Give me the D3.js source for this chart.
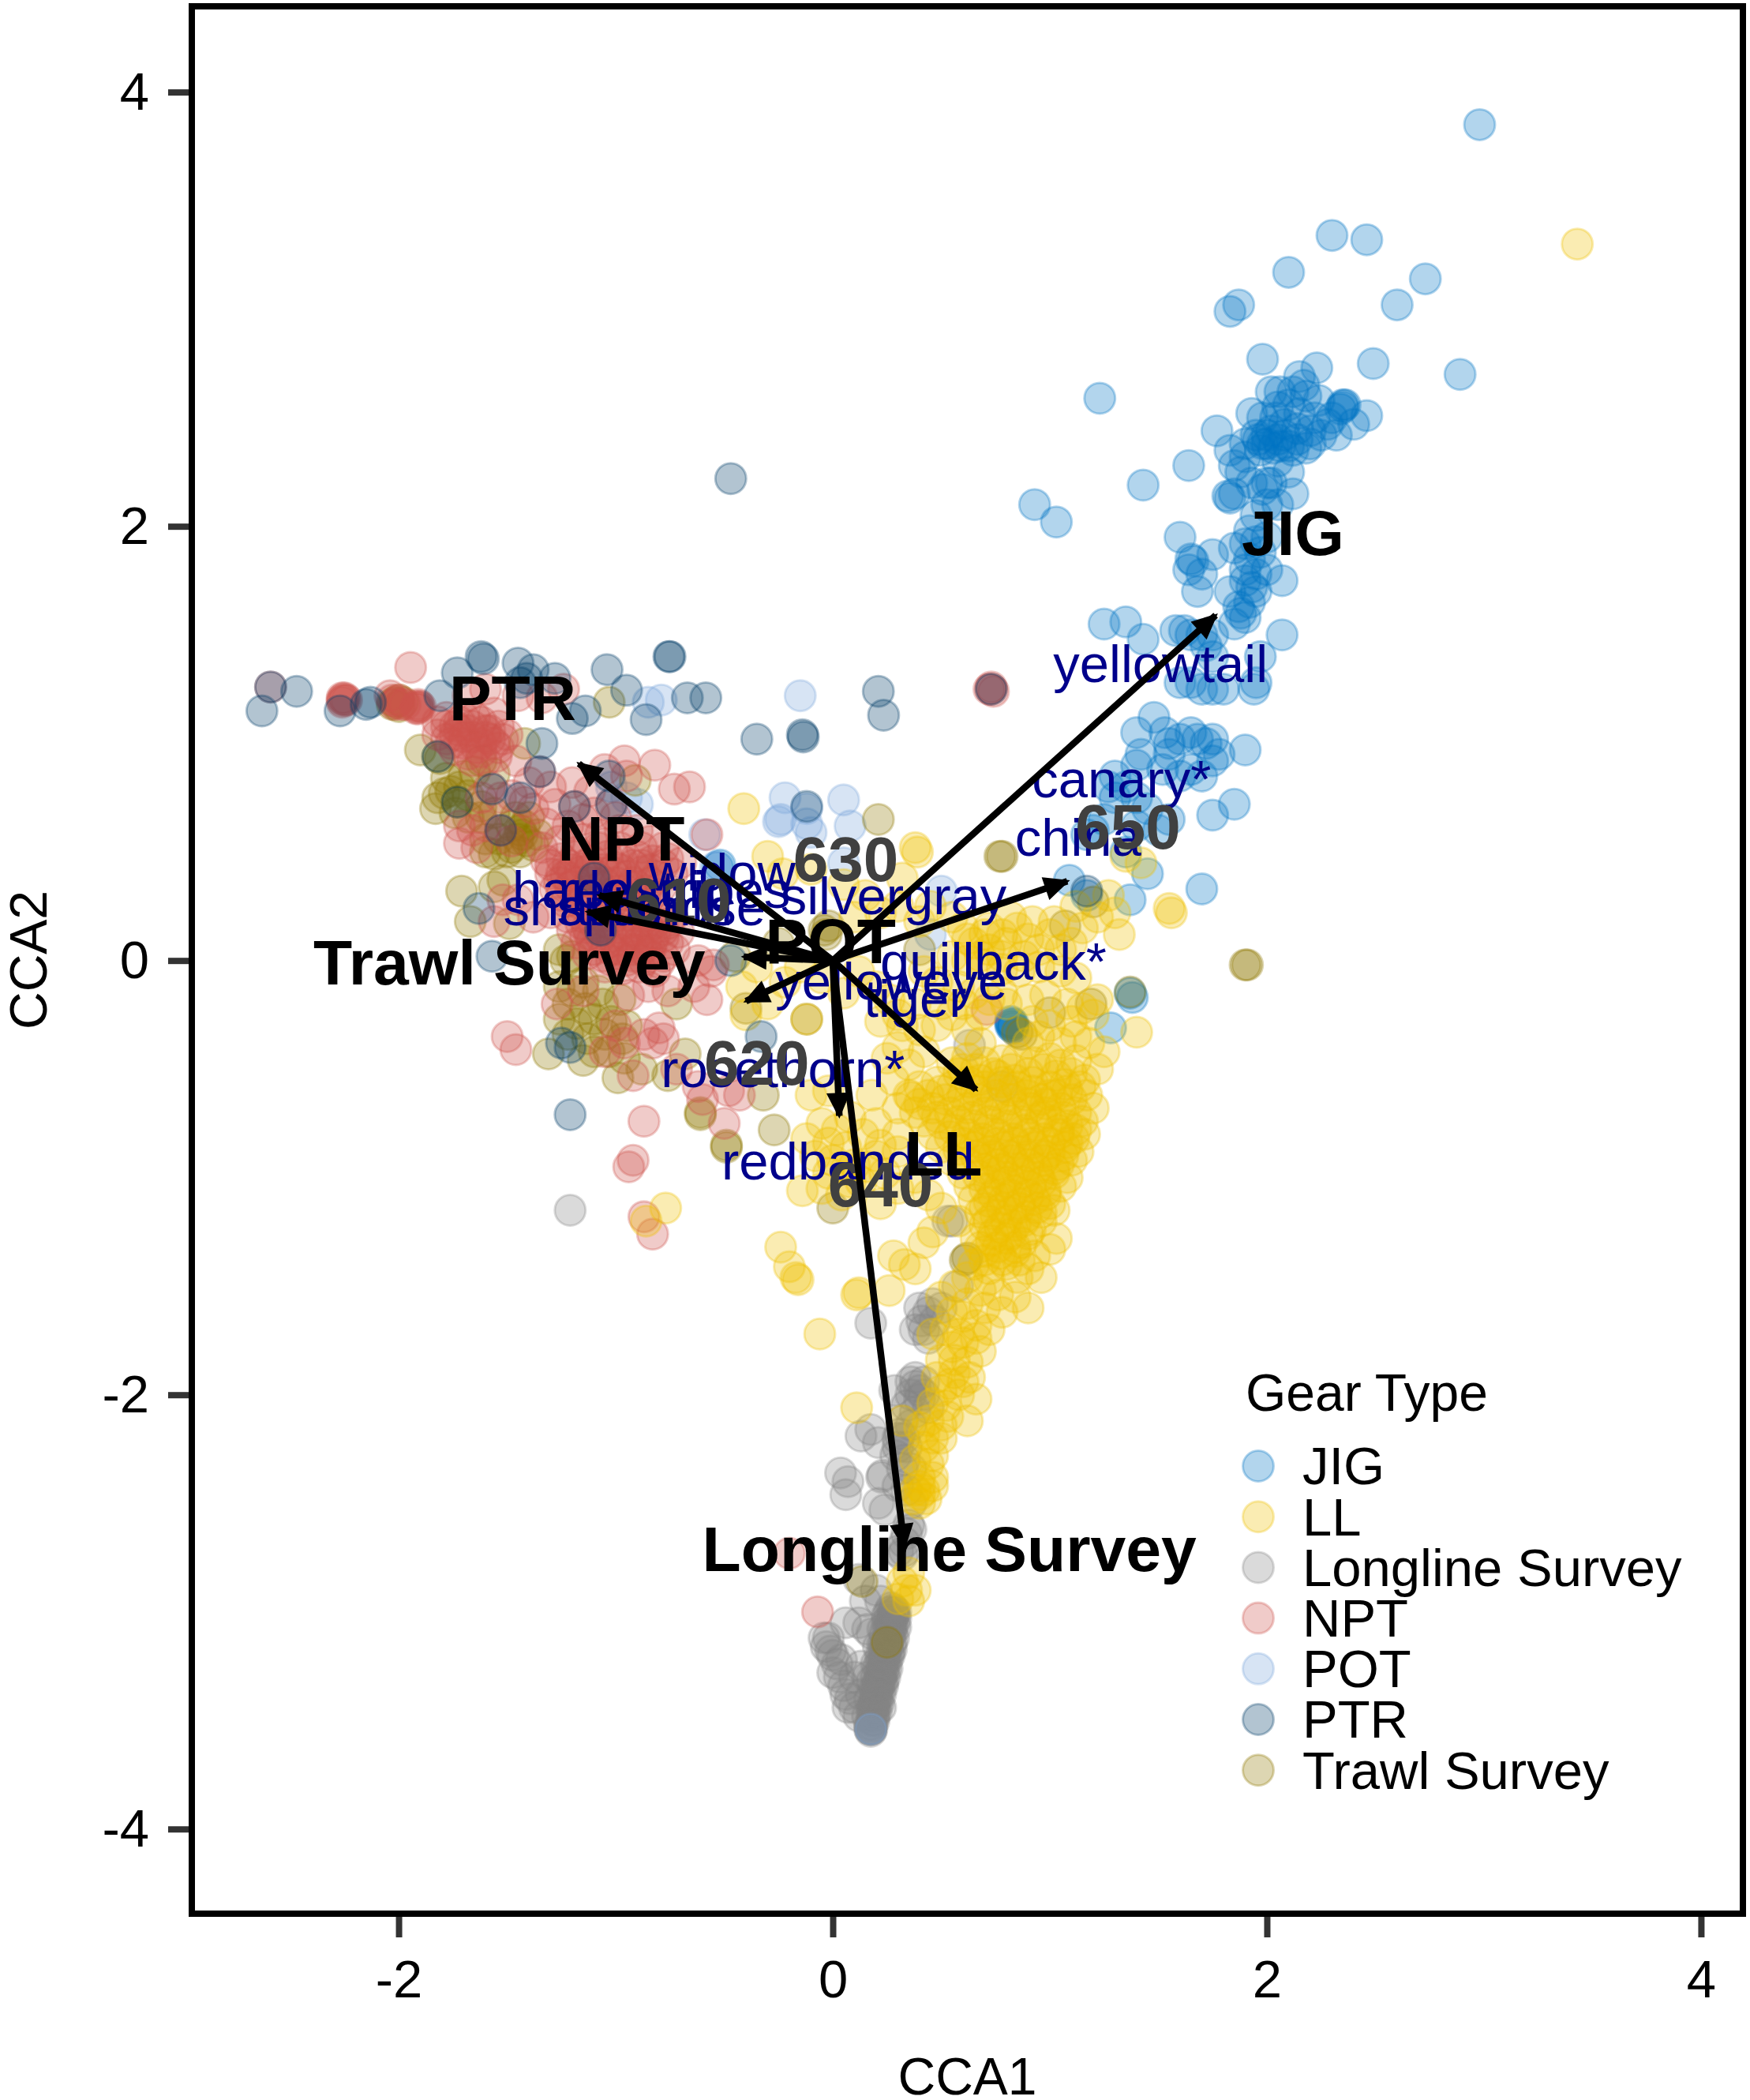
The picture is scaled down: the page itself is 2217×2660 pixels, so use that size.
<!DOCTYPE html>
<html>
<head>
<meta charset="utf-8">
<script src="https://d3js.org/d3.v7.min.js"></script>
<style>
body { margin: 0; background: #fff; }
text { font-family: "Liberation Sans", Arial, sans-serif; }
</style>
</head>
<body>
<div id="chart"></div>
<script>
var gears = ["JIG", "LL", "Longline Survey", "NPT", "POT", "PTR", "Trawl Survey"];
var gearColors = ["#0073C2", "#EFC000", "#868686", "#CD534C", "#7AA6DC", "#003C67", "#8F7700"];
var drawOrder = ["Longline Survey", "JIG", "POT", "Trawl Survey", "NPT", "LL", "PTR"];

var jigPts = [[2.98,3.85],[2.30,3.34],[2.46,3.32],[2.10,3.17],[1.87,3.02],[1.83,2.99],[2.73,3.14],[2.60,3.02],[1.98,2.77],[2.49,2.75],[2.89,2.70],
[2.23,2.73],[2.15,2.69],[2.17,2.65],[2.06,2.62],[1.23,2.59],[2.35,2.55],[2.36,2.56],[2.34,2.54],[2.35,2.56],[2.46,2.51],[1.77,2.44],[1.93,2.52],
[2.05,2.40],[2.0,2.38],[1.97,2.35],[2.03,2.36],[2.08,2.42],[1.95,2.42],[2.1,2.37],[2.14,2.4],[2.2,2.38],[2.25,2.42],[2.28,2.47],[2.22,2.5],[2.15,2.52],[2.1,2.56],[2.18,2.6],[2.05,2.55],[1.98,2.5],[2.3,2.5],[2.4,2.47],[2.32,2.42],[2.0,2.42],[2.02,2.44],[1.98,2.38],[2.06,2.37],[2.12,2.35],[2.18,2.36],[1.96,2.4],
[1.83,2.35],[1.85,2.28],[1.9,2.32],[1.64,2.28],[1.93,2.2],[1.98,2.17],[2.05,2.1],[2.12,2.15],[2.0,2.2],[1.82,2.14],[1.83,2.13],[1.85,2.15],[1.95,2.05],[2.0,2.1],[1.43,2.19],[2.02,2.2],[0.93,2.1],[1.03,2.02],
[1.9,1.92],[1.95,1.93],[2.0,1.95],[1.85,1.9],[1.92,1.85],[1.6,1.95],[1.65,1.85],[1.64,1.8],[1.66,1.84],[1.7,1.78],[1.75,1.87],[1.68,1.7],[1.83,1.7],[1.9,1.75],[1.95,1.7],[1.92,1.65],[1.88,1.6],[1.85,1.55],[1.9,1.58],[2.07,1.75],[1.95,1.78],[2.0,1.8],[1.87,1.63],[1.93,1.72],
[1.25,1.55],[1.35,1.56],[1.43,1.48],[1.58,1.52],[1.62,1.52],[1.65,1.5],[1.7,1.5],[1.75,1.5],[1.72,1.45],[1.75,1.4],[2.07,1.5],[1.97,1.4],[1.95,1.28],[1.94,1.25],[1.6,1.28],[1.65,1.28],[1.7,1.25],[1.75,1.25],[1.8,1.25],[1.48,1.12],
[1.4,1.05],[1.42,0.95],[1.4,0.9],[1.53,1.05],[1.55,1.0],[1.6,1.02],[1.65,1.05],[1.68,1.02],[1.72,1.0],[1.75,0.92],[1.78,0.95],[1.52,0.88],[1.6,0.85],[1.65,0.88],[1.7,0.85],[1.9,0.97],[1.75,1.02],[1.55,0.95],[1.3,0.85],[1.27,0.8],[1.35,0.8],[1.3,0.75],[1.4,0.75],[1.75,0.67],[1.85,0.72],[1.45,0.7],[1.5,0.6],[1.55,0.65],[1.4,0.62],[1.2,0.6],[1.25,0.65],[1.17,0.58],[1.35,0.5],[1.7,0.33],[1.37,0.28],[1.45,0.4],[1.17,0.3],[1.09,0.37],
[0.82,-0.29],[0.83,-0.30],[0.82,-0.30],[0.83,-0.29],[0.82,-0.28],[0.83,-0.31],[1.28,-0.31],[1.37,-0.15],[1.38,-0.17],[-0.53,0.43],[-0.52,0.44],
[2.08,2.47],[2.14,2.45],[2.04,2.5],[2.2,2.44],[2.12,2.62],[2.24,2.58],[2.02,2.62],[1.9,2.38],[2.05,2.3],[1.88,2.25],[2.1,2.25],[1.92,1.98],[1.97,1.88],[1.9,1.8]];

var llPts = [[3.43,3.30],[1.55,0.24],[1.56,0.22],[1.40,-0.33],[-0.41,0.70],[0.38,0.52],[0.39,0.50],[-0.77,-1.14],[-0.86,-1.20],[-0.06,-1.72],[0.11,-1.54],[0.12,-1.53],[0.11,-2.06],[-0.24,-1.32],[-0.2,-1.41],[-0.17,-1.46],[-0.16,-1.47],
[-0.3,0.48],[-0.23,0.4],[-0.1,0.42],[0.05,0.35],[0.15,0.3],[0.32,0.38],[0.45,0.25],[0.55,0.2],[0.6,0.15],[0.7,0.12],[0.65,0.08],[0.72,0.05],[0.78,0.12],[0.85,0.15],[0.8,0.08],[0.9,0.1],[0.95,0.05],[1.0,0.12],[1.05,0.05],[1.1,0.08],[1.15,0.15],[1.22,0.2],[1.3,0.22],[1.32,0.12],[1.27,0.3],[1.12,0.25],[1.35,0.48],[1.42,0.45],
[0.55,0.02],[0.62,0.0],[0.7,-0.02],[0.78,-0.04],[0.86,-0.05],[0.95,-0.03],[1.05,-0.05],[1.12,-0.08],[0.42,-0.05],[0.48,-0.1],[0.58,-0.12],[0.65,-0.15],[0.72,-0.18],[0.78,-0.15],[0.9,-0.18],[0.98,-0.16],[1.08,-0.2],[1.15,-0.22],[1.22,-0.18],[1.2,-0.25],[1.1,-0.28],[1.0,-0.3],[1.12,-0.35],[1.05,-0.38],[0.95,-0.35],[0.9,-0.38],[1.18,-0.38],[1.25,-0.42],[1.22,-0.5],[1.12,-0.46],
[0.2,-0.12],[0.12,-0.05],[0.05,-0.15],[-0.05,-0.08],[-0.15,-0.03],[-0.22,-0.1],[-0.35,-0.03],[-0.42,-0.12],[-0.4,-0.25],[-0.3,-0.2],[-0.12,-0.27],[0.3,-0.25],[0.22,-0.28],[0.4,-0.32],[0.48,-0.3],[0.55,-0.25],[0.62,-0.32],[0.68,-0.38],[0.3,-0.4],[0.35,-0.48],[0.25,-0.45],[0.42,-0.42],
[0.55,-0.47],[0.62,-0.45],[0.7,-0.47],[0.78,-0.46],[0.85,-0.45],[0.93,-0.47],[1.0,-0.45],[1.05,-0.48],[0.58,-0.52],[0.66,-0.5],[0.74,-0.52],[0.82,-0.5],[0.9,-0.52],[0.97,-0.5],[1.03,-0.53],[1.1,-0.52],[1.16,-0.55],[0.4,-0.58],[0.48,-0.56],[0.55,-0.58],[0.63,-0.56],[0.7,-0.58],[0.78,-0.56],[0.85,-0.58],[0.92,-0.56],[1.0,-0.58],[1.07,-0.57],[1.14,-0.58],[0.36,-0.63],
[0.44,-0.62],[0.52,-0.64],[0.6,-0.62],[0.67,-0.64],[0.75,-0.62],[0.82,-0.64],[0.89,-0.62],[0.96,-0.64],[1.03,-0.62],[1.1,-0.64],[1.17,-0.62],[1.2,-0.68],[0.3,-0.68],[0.38,-0.7],[0.46,-0.68],[0.54,-0.7],[0.62,-0.68],[0.7,-0.7],[0.77,-0.68],[0.84,-0.7],[0.91,-0.68],[0.98,-0.7],[1.05,-0.68],[1.12,-0.7],[0.42,-0.74],[0.5,-0.75],[0.58,-0.74],[0.65,-0.76],[0.72,-0.74],[0.8,-0.76],[0.87,-0.74],[0.94,-0.76],[1.01,-0.74],[1.08,-0.76],[1.15,-0.74],
[0.46,-0.8],[0.54,-0.81],[0.62,-0.8],[0.69,-0.82],[0.76,-0.8],[0.83,-0.82],[0.9,-0.8],[0.97,-0.82],[1.04,-0.8],[1.11,-0.82],[1.16,-0.8],[0.5,-0.86],[0.58,-0.87],[0.65,-0.86],[0.72,-0.88],[0.79,-0.86],[0.86,-0.88],[0.93,-0.86],[1.0,-0.88],[1.07,-0.86],[1.13,-0.88],[0.55,-0.92],[0.62,-0.93],[0.69,-0.92],[0.76,-0.94],[0.83,-0.92],[0.9,-0.94],[0.97,-0.92],[1.04,-0.94],[1.1,-0.92],
[0.6,-0.98],[0.67,-0.99],[0.74,-0.98],[0.81,-1.0],[0.88,-0.98],[0.95,-1.0],[1.02,-0.98],[1.08,-1.0],[0.63,-1.04],[0.7,-1.05],[0.77,-1.04],[0.84,-1.06],[0.91,-1.04],[0.98,-1.06],[1.05,-1.04],[0.65,-1.1],[0.72,-1.11],[0.79,-1.1],[0.86,-1.12],[0.93,-1.1],[1.0,-1.12],[0.68,-1.16],[0.75,-1.17],[0.82,-1.16],[0.89,-1.18],[0.96,-1.16],[1.02,-1.15],
[0.7,-1.22],[0.77,-1.23],[0.84,-1.22],[0.91,-1.24],[0.66,-1.28],[0.73,-1.29],[0.8,-1.28],[0.87,-1.3],[1.03,-1.28],[0.7,-1.34],[0.77,-1.35],[0.84,-1.34],[0.93,-1.36],[1.0,-1.33],[0.65,-1.4],[0.72,-1.42],[0.8,-1.4],[0.9,-1.42],[0.96,-1.46],[0.85,-1.46],[0.72,-1.47],[0.62,-1.46],[0.56,-1.5],[0.68,-1.52],[0.76,-1.54],[0.84,-1.55],[0.9,-1.6],[0.78,-1.62],[0.7,-1.6],[0.62,-1.58],[0.55,-1.62],
[-0.1,-0.62],[-0.02,-0.6],[0.08,-0.72],[-0.05,-0.75],[0.02,-0.78],[-0.12,-0.82],[-0.02,-0.84],[0.06,-0.86],[0.14,-0.8],[0.2,-0.75],[-0.08,-0.9],[0.0,-0.92],[0.1,-0.94],[0.2,-0.9],[0.3,-0.88],[-0.05,-1.05],[-0.14,-1.06],[0.04,-1.08],[0.13,-1.02],[0.22,-1.12],[0.3,-1.05],[0.38,-1.0],[0.44,-1.08],[0.5,-1.14],[0.46,-1.25],[0.58,-1.2],[0.42,-1.3],[0.33,-1.4],[0.38,-1.42],[0.28,-1.36],
[0.26,-1.52],[0.5,-1.55],[0.46,-1.72],[0.52,-1.7],[0.55,-1.78],[0.58,-1.72],[0.56,-1.9],[0.62,-1.85],[0.68,-1.8],[0.63,-1.92],[0.5,-1.98],[0.58,-2.0],[0.66,-2.02],[0.53,-2.1],[0.62,-2.12],[0.5,-2.2],[0.4,-2.15],[0.32,-2.12],[0.46,-2.28],[0.42,-2.24],[0.38,-2.3],[0.4,-2.38],[0.42,-2.44],[0.38,-2.44],[0.46,-2.42],[0.4,-2.46],[0.4,-2.5],[0.46,-2.38],
[0.32,-2.86],[0.35,-2.82],[0.38,-2.9],[0.34,-2.9],[0.3,-2.94],[0.35,-2.95],
[0.6,-0.5],[0.68,-0.55],[0.76,-0.53],[0.84,-0.55],[0.92,-0.6],[1.0,-0.62],[1.08,-0.6],[0.5,-0.6],[0.58,-0.66],[0.66,-0.6],[0.74,-0.66],[0.82,-0.6],[0.9,-0.66],[0.98,-0.66],[1.06,-0.72],[0.4,-0.66],[0.48,-0.72],[0.56,-0.78],[0.64,-0.72],[0.72,-0.78],[0.8,-0.72],[0.88,-0.78],[0.96,-0.72],[1.04,-0.78],[1.12,-0.78],
[0.6,-0.84],[0.68,-0.84],[0.76,-0.84],[0.84,-0.84],[0.92,-0.84],[1.0,-0.84],[1.08,-0.84],[0.66,-0.9],[0.74,-0.9],[0.82,-0.9],[0.9,-0.9],[0.98,-0.9],[1.06,-0.9],[0.7,-0.96],[0.78,-0.96],[0.86,-0.96],[0.94,-0.96],[1.02,-0.96],[0.72,-1.02],[0.8,-1.02],[0.88,-1.02],[0.96,-1.02],[0.74,-1.08],[0.82,-1.08],[0.9,-1.08],[0.98,-1.08],[0.7,-1.14],[0.78,-1.14],[0.86,-1.14],[0.94,-1.14],[0.72,-1.2],[0.8,-1.2],[0.88,-1.2],[0.96,-1.2],[0.74,-1.26],[0.82,-1.26],[0.9,-1.26],[0.68,-1.32],[0.76,-1.32],[0.84,-1.32],[0.7,-1.38],[0.78,-1.38],[0.86,-1.38],
[0.3,-0.8],[0.22,-0.85],[0.16,-0.95],[0.08,-1.02],[0.24,-0.98],[0.06,-0.96],[-0.02,-0.98],[0.35,-0.62],[0.28,-0.55],[0.18,-0.62],[0.32,-0.3],[0.38,-0.2],[0.26,-0.18],[0.5,-0.2],[0.6,-0.2],[0.68,-0.25],[0.8,-0.2],[0.92,-0.28],[0.68,0.02],[0.78,0.02],[0.88,0.02],[0.62,0.1],[0.72,0.15],[0.82,0.2],[0.92,0.18],[1.02,0.18],[0.4,0.18],[0.3,0.25],[0.22,0.22],[0.1,0.2],
[0.6,-1.64],[0.66,-1.68],[0.72,-1.7],[0.6,-1.76],[0.66,-1.74],[0.5,-1.84],[0.56,-1.84],[0.48,-1.92],[0.54,-1.95],[0.6,-1.94],[0.46,-2.04],[0.52,-2.05],[0.44,-2.12],[0.5,-2.14],[0.42,-2.18],[0.46,-2.2],[0.44,-2.32],[0.4,-2.42],[0.43,-2.48],[0.37,-2.48]];

var longlinePts = [[0.175,-3.54],[0.18,-3.5],[0.19,-3.46],[0.2,-3.42],[0.18,-3.44],[0.21,-3.38],[0.19,-3.36],[0.22,-3.33],[0.2,-3.3],[0.23,-3.28],[0.21,-3.25],[0.24,-3.22],[0.22,-3.2],[0.25,-3.17],[0.23,-3.15],[0.26,-3.12],[0.24,-3.1],[0.27,-3.07],[0.25,-3.05],[0.28,-3.02],[0.26,-3.0],[0.29,-3.0],[0.27,-2.98],
[0.17,-3.52],[0.19,-3.48],[0.16,-3.48],[0.22,-3.44],[0.17,-3.4],[0.2,-3.36],[0.23,-3.34],[0.18,-3.32],[0.22,-3.28],[0.25,-3.26],[0.2,-3.24],[0.23,-3.2],[0.26,-3.18],[0.21,-3.16],[0.24,-3.14],[0.27,-3.1],[0.23,-3.08],[0.26,-3.06],[0.29,-3.03],[0.25,-3.02],[0.28,-2.99],[0.19,-3.42],[0.21,-3.32],[0.24,-3.26],[0.27,-3.14],[0.28,-3.06],
[-0.04,-3.12],[-0.03,-3.16],[-0.02,-3.12],[-0.01,-3.18],[0.0,-3.2],[0.02,-3.24],[0.0,-3.28],[0.03,-3.3],[0.05,-3.34],[0.06,-3.38],[0.08,-3.4],[0.1,-3.44],[0.07,-3.44],[0.12,-3.48],[0.04,-3.22],[0.1,-3.3],[0.13,-3.38],[0.13,-3.25],[0.16,-3.3],[0.06,-3.05],[0.12,-3.05],[0.16,-3.08],[0.18,-3.1],
[0.12,-2.85],[0.2,-2.9],[0.15,-2.95],[0.22,-2.95],[0.3,-2.72],[0.32,-2.74],[0.33,-2.68],[0.34,-2.64],[0.36,-2.62],[0.35,-2.6],[0.33,-2.72],
[0.036,-2.36],[0.07,-2.40],[0.06,-2.46],[0.13,-2.19],[0.175,-2.16],[0.21,-2.22],[0.225,-2.38],[0.23,-2.37],[0.21,-2.5],[0.24,-2.53],[0.285,-1.98],[0.38,-1.96],[0.36,-1.94],[0.42,-2.0],[0.4,-2.02],[0.44,-2.06],[0.3,-2.2],[0.33,-2.3],[0.31,-2.18],[0.34,-2.24],[0.36,-2.34],
[0.175,-1.67],[0.41,-1.66],[0.44,-1.62],[0.42,-1.7],[0.47,-1.66],[0.44,-1.74],[0.53,-1.2],[0.575,-1.5],[0.63,-0.39],[0.55,-1.20],[0.78,-0.58],[-1.21,-1.15],[0.18,-3.52],[0.175,-3.53],[0.175,-3.54],[0.175,-3.55],[0.17,-3.54],[0.18,-3.54],
[0.18,-3.47],[0.19,-3.44],[0.2,-3.4],[0.2,-3.38],[0.21,-3.35],[0.21,-3.34],[0.22,-3.31],[0.22,-3.3],[0.23,-3.26],[0.23,-3.24],[0.24,-3.21],[0.24,-3.19],[0.25,-3.16],[0.25,-3.14],[0.26,-3.11],[0.26,-3.09],[0.27,-3.06],[0.27,-3.04],[0.28,-3.01],[0.28,-3.0],[0.19,-3.5],[0.2,-3.46],[0.21,-3.42],[0.22,-3.38],[0.23,-3.32],[0.24,-3.3],[0.25,-3.22],[0.26,-3.2],[0.27,-3.17],[0.28,-3.12],[0.29,-3.07],[0.2,-3.34],[0.22,-3.24],[0.24,-3.16],[0.26,-3.04],
[0.36,-2.0],[0.4,-1.98],[0.34,-2.05],[0.38,-2.08],[0.32,-2.12],[0.36,-2.14],[0.3,-2.24],[0.33,-2.2],[0.29,-2.28],[0.32,-2.34],[0.3,-2.42],[0.34,-2.44],[0.36,-2.5],[0.38,-1.92],[0.42,-1.94],[0.46,-1.58],[0.5,-1.6],[0.4,-1.6],[0.38,-1.7]];

var nptPts = [[-1.945,1.35],[-2.25,1.2],[-2.26,1.19],[-2.25,1.21],[-2.26,1.2],[-2.24,1.2],[-2.26,1.21],[-1.91,1.17],[-1.92,1.16],[-1.91,1.16],[-1.9,1.17],[-1.92,1.17],[-1.91,1.18],[-2.01,1.19],[-2.03,1.2],[-1.99,1.18],[-2.02,1.18],[-2.0,1.2],[-1.97,1.18],[-2.04,1.22],
[-1.82,1.1],[-1.78,1.12],[-1.74,1.08],[-1.7,1.12],[-1.66,1.08],[-1.62,1.1],[-1.58,1.06],[-1.54,1.08],[-1.5,1.04],[-1.82,1.04],[-1.78,1.02],[-1.74,1.04],[-1.7,1.0],[-1.66,1.03],[-1.62,1.0],[-1.58,1.02],[-1.54,0.98],[-1.74,0.97],[-1.68,0.95],[-1.62,0.96],[-1.55,0.94],[-1.72,1.06],[-1.65,1.12],[-1.56,1.14],[-1.45,1.22],[-1.68,1.22],[-1.6,1.25],[-1.34,1.21],[-1.24,1.25],[-1.46,0.92],[-0.96,0.92],[-0.82,0.90],[-0.73,0.79],[-0.66,0.80],[-0.58,0.58],
[-1.35,0.87],[-1.4,0.82],[-1.3,0.8],[-1.2,0.82],[-1.12,0.78],[-1.62,0.75],[-1.58,0.8],[-1.53,0.75],[-1.48,0.76],[-1.42,0.73],[-1.38,0.7],[-1.28,0.72],[-1.19,0.71],[-1.1,0.68],[-1.02,0.72],[-1.0,0.66],[-0.95,0.85],[-1.32,0.63],[-1.22,0.62],
[-1.72,0.62],[-1.66,0.6],[-1.6,0.62],[-1.53,0.6],[-1.48,0.55],[-1.72,0.54],[-1.64,0.52],[-1.34,0.52],[-1.26,0.55],[-1.15,0.56],[-1.07,0.58],[-0.98,0.6],[-0.9,0.6],[-0.84,0.55],[-0.78,0.52],
[-1.32,0.46],[-1.25,0.47],[-1.18,0.48],[-1.11,0.46],[-1.04,0.48],[-0.97,0.46],[-0.9,0.48],[-0.83,0.46],[-0.76,0.47],[-0.7,0.45],[-1.3,0.4],[-1.23,0.39],[-1.16,0.41],[-1.09,0.39],[-1.02,0.41],[-0.95,0.39],[-0.88,0.41],[-0.81,0.39],[-0.74,0.4],[-1.28,0.33],[-1.21,0.34],[-1.14,0.32],[-1.07,0.34],[-1.0,0.32],[-0.93,0.34],[-0.86,0.32],[-0.79,0.34],[-1.45,0.28],[-1.38,0.2],[-1.3,0.22],[-1.23,0.27],[-1.16,0.26],[-1.09,0.27],[-1.02,0.26],[-0.95,0.27],[-0.88,0.26],[-0.82,0.28],[-1.22,0.44],[-1.12,0.42],[-1.0,0.43],[-0.88,0.44],[-1.0,0.36],[-1.12,0.36],
[-1.52,0.28],[-1.56,0.18],[-1.22,0.2],[-1.15,0.2],[-1.08,0.21],[-1.01,0.2],[-0.94,0.21],[-0.87,0.2],[-0.8,0.21],[-0.74,0.2],[-1.2,0.14],[-1.13,0.15],[-1.06,0.14],[-0.99,0.15],[-0.92,0.14],[-0.85,0.15],[-0.78,0.14],[-0.71,0.13],[-1.18,0.08],[-1.11,0.09],[-1.04,0.08],[-0.97,0.09],[-0.9,0.08],[-0.83,0.09],[-0.76,0.08],[-1.13,0.03],[-1.06,0.02],[-0.99,0.03],[-0.92,0.02],[-0.85,0.03],[-0.78,0.02],[-1.05,-0.03],[-0.97,-0.04],[-0.89,-0.03],[-0.82,-0.05],[-1.12,0.12],[-1.02,0.11],[-0.9,0.12],[-0.82,0.12],[-0.98,0.05],[-0.88,0.05],
[-0.56,-0.05],[-0.73,0.05],[-0.62,0.0],[-0.55,-0.02],[-0.64,-0.12],[-0.58,-0.18],[-0.94,-0.16],[-0.85,-0.12],[-0.76,-0.14],[-1.15,-0.14],[-1.5,-0.35],[-1.46,-0.41],[-1.0,-0.3],[-0.96,-0.38],[-0.87,-0.34],[-0.8,-0.31],[-0.83,-0.38],[-0.78,-0.36],[-0.92,-0.53],[-0.87,-0.74],[-0.92,-0.92],[-0.94,-0.95],[-0.6,-0.64],[-0.48,-0.6],[-0.43,-0.62],[-0.72,-0.5],[-0.83,-1.26],[-0.87,-1.18],[-0.2,-2.73],[-0.07,-3.0],[0.71,-0.226],[-0.62,-0.58],[-0.5,-0.75],[-1.27,-0.2],[-1.05,-0.42],[0.73,1.25],[0.74,1.24],[0.73,1.26],[0.72,1.25],[-1.05,0.88],[-1.25,0.4],[-1.15,0.65],[-2.59,1.26],
[-1.3,0.44],[-1.2,0.42],[-1.14,0.44],[-1.06,0.42],[-0.98,0.42],[-0.92,0.44],[-0.84,0.42],[-0.78,0.44],[-1.26,0.36],[-1.18,0.36],[-1.05,0.36],[-0.92,0.36],[-0.84,0.36],[-1.25,0.3],[-1.18,0.3],[-1.12,0.3],[-1.04,0.3],[-0.96,0.3],[-0.9,0.3],[-0.84,0.3],[-1.18,0.5],[-1.08,0.52],[-0.98,0.52],[-0.88,0.52],[-1.05,0.54],
[-1.16,0.17],[-1.1,0.17],[-1.03,0.17],[-0.96,0.17],[-0.89,0.17],[-0.82,0.17],[-0.76,0.17],[-1.14,0.11],[-1.07,0.11],[-0.95,0.11],[-0.86,0.11],[-0.78,0.11],[-1.1,0.05],[-1.02,0.05],[-0.92,0.05],[-0.84,0.05],[-1.02,0.0],[-0.95,0.0],[-0.87,0.0],[-0.8,-0.01],
[-1.78,1.08],[-1.72,1.1],[-1.68,1.06],[-1.6,1.06],[-1.76,1.0],[-1.7,1.03],[-1.64,0.98],[-1.6,1.03],[-1.56,1.0],[-1.52,1.02],[-1.66,0.92],[-1.6,0.92]];

var potPts = [[-0.15,1.22],[-0.85,1.19],[-0.79,1.2],[-0.22,0.75],[-0.24,0.65],[0.05,0.74],[-0.12,0.70],[-0.1,0.59],[-0.54,0.43],[-0.59,0.58],[-0.25,0.64],[-0.12,0.63],[0.08,0.62],[0.175,-3.54],[0.05,0.45],[0.5,0.32],[-1.02,0.8],[-0.95,0.75],[-0.9,0.72],[0.45,0.12]];

var ptrPts = [[-1.62,1.40],[-1.61,1.39],[-1.73,1.325],[-1.45,1.37],[-1.38,1.34],[-1.28,1.30],[-1.41,1.30],[-1.44,1.28],[-1.04,1.34],[-0.755,1.40],[-0.75,1.40],[-0.95,1.245],[-0.86,1.11],[-0.67,1.21],[-0.585,1.21],[-0.35,1.02],[-0.14,1.04],[-0.12,0.71],[-1.2,1.115],[-1.34,1.0],[-1.14,1.15],[-1.81,1.22],[-1.82,0.94],[-1.73,0.73],[-1.53,0.60],[-1.57,0.79],[-1.44,0.75],[-1.35,0.87],[-1.19,0.71],[-1.03,0.85],[-1.02,0.72],[-1.63,0.24],[-1.57,0.02],[-1.21,-0.71],[-1.21,-0.40],[-1.25,-0.38],[-0.33,-0.35],[-0.47,0.0],
[-2.63,1.15],[-2.47,1.24],[-2.59,1.26],[-2.27,1.15],[-2.15,1.18],[-2.13,1.19],[0.21,1.24],[0.234,1.13],[-0.136,1.03],[-0.47,2.22],[0.73,1.25],[1.17,0.32],[-1.07,0.14],[-1.1,0.38]];

var trawlPts = [[-1.90,0.97],[-1.82,0.94],[-1.81,0.93],[-1.65,0.87],[-1.82,0.75],[-1.83,0.70],[-1.73,0.73],[-1.62,0.71],[-1.79,0.77],[-1.76,0.78],[-1.43,0.58],[-1.44,0.6],[-1.42,0.62],[-1.45,0.56],[-1.41,0.55],[-1.56,0.49],[-1.5,0.5],[-1.38,0.53],[-1.71,0.32],[-1.56,0.34],[-1.67,0.18],[-1.52,0.37],[-1.49,0.17],[-1.26,0.05],[-1.2,0.02],[-1.03,1.19],[-1.42,1.0],[-0.91,0.83],[-1.23,0.0],[-2.02,1.19],[-2.0,1.2],[-1.98,1.19],[-2.03,1.18],[-2.0,1.17],
[-1.26,-0.12],[-1.2,-0.14],[-1.15,-0.1],[-1.08,-0.14],[-1.22,-0.2],[-1.14,-0.22],[-1.06,-0.2],[-0.98,-0.18],[-1.26,-0.27],[-1.18,-0.29],[-1.1,-0.27],[-1.02,-0.28],[-0.95,-0.3],[-1.22,-0.34],[-1.13,-0.36],[-1.05,-0.34],[-0.97,-0.36],[-1.1,-0.42],[-1.03,-0.42],[-0.96,-0.45],[-1.31,-0.43],[-1.15,-0.46],[-0.99,-0.54],[-0.88,-0.5],[-0.76,-0.53],[-0.68,-0.43],[-0.72,-0.2],[-0.61,-0.71],[-0.49,-0.86],[-0.27,-0.78],[-0.32,-0.62],
[-0.04,0.14],[-0.03,0.12],[-0.02,0.16],[-0.12,-0.27],[-0.49,-0.85],[-0.61,-0.70],[0.0,-1.14],[0.61,-1.38],[0.62,-1.37],[1.07,0.16],[1.37,-0.145],[0.87,-0.34],[0.85,-0.33],[1.19,-0.2],[1.0,-0.24],[0.21,0.65],[0.25,-3.14],[0.135,-2.86],[1.91,-0.02],[1.9,-0.02],[0.78,0.48],[0.77,0.48],[1.2,0.27],[0.4,0.05],[-0.25,0.08],[-0.45,0.02],[-0.4,-0.22],
[-1.78,0.84],[-1.72,0.8],[-1.68,0.76],[-1.74,0.68],[-1.68,0.66],[-1.62,0.66],[-1.56,0.68],[-1.6,0.56],[-1.54,0.56],[-1.48,0.62],[-1.46,0.66],[-1.4,0.66],[-1.36,0.58],[-1.48,0.52],[-1.44,0.5],[-1.6,0.5],[-1.7,0.85],[-1.62,0.92],[-1.56,0.86]];

var arrowEnds = [[-1.17,0.907],[-1.076,0.30],[-1.13,0.224],[-0.41,0.017],[-0.40,-0.187],[0.03,-0.715],[0.66,-0.595],[1.08,0.365],[1.764,1.59],[0.33,-2.70]];

var speciesNames = ["harlequin", "redstripes", "sharpchin", "splitnose", "widow", "silvergray", "yellowtail", "canary*", "china", "quillback*", "yelloweye", "tiger", "rosethorn*", "redbanded"];
var speciesX = [-0.975, -0.73, -0.99, -0.79, -0.51, 0.28, 1.51, 1.33, 1.13, 0.74, 0.27, 0.38, -0.23, 0.07];
var speciesY = [0.32, 0.32, 0.24, 0.24, 0.40, 0.29, 1.36, 0.83, 0.56, -0.01, -0.10, -0.18, -0.505, -0.93];

var areaNames = ["610", "620", "630", "640", "650"];
var areaX = [-0.71, -0.35, 0.06, 0.22, 1.36];
var areaY = [0.27, -0.48, 0.46, -1.04, 0.61];

var gearLabelNames = ["JIG", "LL", "Longline Survey", "NPT", "POT", "PTR", "Trawl Survey"];
var gearLabelX = [2.12, 0.51, 0.537, -0.975, -0.01, -1.475, -1.49];
var gearLabelY = [1.96, -0.90, -2.72, 0.55, 0.08, 1.20, -0.02];

var xTicks = [-2, 0, 2, 4];
var yTicks = [-4, -2, 0, 2, 4];

var ptsByGear = {
	"JIG": jigPts, "LL": llPts, "Longline Survey": longlinePts, "NPT": nptPts,
	"POT": potPts, "PTR": ptrPts, "Trawl Survey": trawlPts
};

var W = 2217, H = 2660;
var plotLeft = 243, plotRight = 2208, plotTop = 8, plotBottom = 2424;
var R = 19.5;

var x = d3.scaleLinear().domain([-2.953, 4.193]).range([plotLeft, plotRight]);
var y = d3.scaleLinear().domain([-4.39, 4.395]).range([plotBottom, plotTop]);
var color = d3.scaleOrdinal().domain(gears).range(gearColors);

var svg = d3.select("#chart").append("svg")
	.attr("width", W)
	.attr("height", H)
	.style("display", "block");

svg.append("defs").append("marker")
	.attr("id", "head")
	.attr("markerUnits", "userSpaceOnUse")
	.attr("viewBox", "-4 -4 40 40")
	.attr("markerWidth", 40)
	.attr("markerHeight", 40)
	.attr("refX", 29)
	.attr("refY", 16)
	.attr("orient", "auto")
	.append("path")
	.attr("d", "M2,4 L28,16 L2,28 Z")
	.attr("fill", "#000")
	.attr("stroke", "#000")
	.attr("stroke-width", 4);

// points, one group per gear
drawOrder.forEach(function(g) {
	svg.append("g").selectAll("circle")
		.data(ptsByGear[g])
		.enter()
		.append("circle")
		.attr("cx", function(d) { return x(d[0]); })
		.attr("cy", function(d) { return y(d[1]); })
		.attr("r", R)
		.attr("fill", color(g))
		.attr("fill-opacity", 0.3)
		.attr("stroke", color(g))
		.attr("stroke-opacity", 0.3)
		.attr("stroke-width", 3);
});

// species names
svg.append("g").selectAll("text")
	.data(speciesNames)
	.enter()
	.append("text")
	.text(function(d) { return d; })
	.attr("x", function(d, i) { return x(speciesX[i]); })
	.attr("y", function(d, i) { return y(speciesY[i]); })
	.attr("dy", "0.32em")
	.attr("text-anchor", "middle")
	.attr("font-size", 67)
	.attr("fill", "#00008B");

// area numbers
svg.append("g").selectAll("text")
	.data(areaNames)
	.enter()
	.append("text")
	.text(function(d) { return d; })
	.attr("x", function(d, i) { return x(areaX[i]); })
	.attr("y", function(d, i) { return y(areaY[i]); })
	.attr("dy", "0.32em")
	.attr("text-anchor", "middle")
	.attr("font-size", 80)
	.attr("font-weight", "bold")
	.attr("fill", "#404040");

// gear names
svg.append("g").selectAll("text")
	.data(gearLabelNames)
	.enter()
	.append("text")
	.text(function(d) { return d; })
	.attr("x", function(d, i) { return x(gearLabelX[i]); })
	.attr("y", function(d, i) { return y(gearLabelY[i]); })
	.attr("dy", "0.31em")
	.attr("text-anchor", "middle")
	.attr("font-size", 80.5)
	.attr("font-weight", "bold")
	.attr("fill", "#000");

// arrows from the origin
svg.append("g").selectAll("line")
	.data(arrowEnds)
	.enter()
	.append("line")
	.attr("x1", x(0))
	.attr("y1", y(0))
	.attr("x2", function(d) { return x(d[0]); })
	.attr("y2", function(d) { return y(d[1]); })
	.attr("stroke", "#000")
	.attr("stroke-width", 8.5)
	.attr("marker-end", "url(#head)");

// panel border
svg.append("rect")
	.attr("x", plotLeft)
	.attr("y", plotTop)
	.attr("width", plotRight - plotLeft)
	.attr("height", plotBottom - plotTop)
	.attr("fill", "none")
	.attr("stroke", "#000")
	.attr("stroke-width", 8);

// axes
var xAxis = d3.axisBottom(x).tickValues(xTicks).tickSize(26).tickPadding(28).tickFormat(function(d) { return String(d); });
var yAxis = d3.axisLeft(y).tickValues(yTicks).tickSize(26).tickPadding(24).tickFormat(function(d) { return String(d); });

var gx = svg.append("g").attr("transform", "translate(0," + (plotBottom + 4) + ")").call(xAxis);
var gy = svg.append("g").attr("transform", "translate(" + (plotLeft - 4) + ",0)").call(yAxis);
[gx, gy].forEach(function(a) {
	a.select(".domain").remove();
	a.selectAll(".tick line").attr("stroke", "#333").attr("stroke-width", 8);
	a.selectAll(".tick text")
		.attr("font-size", 67)
		.attr("font-family", "Liberation Sans")
		.attr("fill", "#000");
});

svg.append("text")
	.text("CCA1")
	.attr("x", (plotLeft + plotRight) / 2)
	.attr("y", 2630)
	.attr("dy", "0.35em")
	.attr("text-anchor", "middle")
	.attr("font-size", 66);

svg.append("text")
	.text("CCA2")
	.attr("transform", "translate(36," + ((plotTop + plotBottom) / 2) + ") rotate(-90)")
	.attr("dy", "0.35em")
	.attr("text-anchor", "middle")
	.attr("font-size", 66);

// legend
var legendX = 1594, legendTop = 1857, legendStep = 64.2;
svg.append("text")
	.text("Gear Type")
	.attr("x", 1578)
	.attr("y", 1764)
	.attr("dy", "0.35em")
	.attr("font-size", 66);

var legend = svg.append("g").selectAll("g")
	.data(gears)
	.enter()
	.append("g")
	.attr("transform", function(d, i) { return "translate(" + legendX + "," + (legendTop + i * legendStep) + ")"; });

legend.append("circle")
	.attr("r", R)
	.attr("fill", function(d) { return color(d); })
	.attr("fill-opacity", 0.3)
	.attr("stroke", function(d) { return color(d); })
	.attr("stroke-opacity", 0.3)
	.attr("stroke-width", 3);

legend.append("text")
	.text(function(d) { return d; })
	.attr("x", 56)
	.attr("dy", "0.35em")
	.attr("font-size", 67);
</script>
</body>
</html>
